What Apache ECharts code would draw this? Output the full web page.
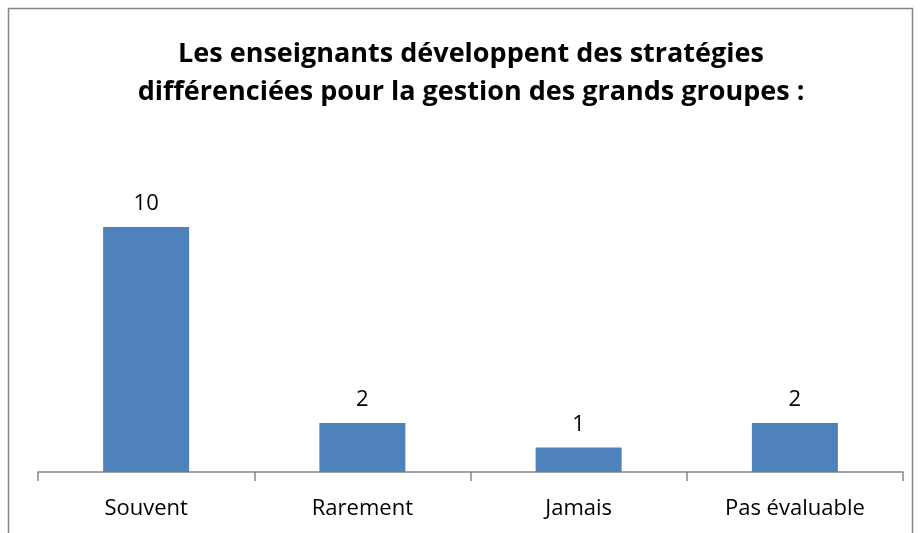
<!DOCTYPE html>
<html>
<head>
<meta charset="utf-8">
<script src="https://cdn.jsdelivr.net/npm/echarts@6/dist/echarts.min.js"></script>
<style>
  html, body { margin: 0; padding: 0; background: #fff; }
  #main { width: 921px; height: 533px; }
</style>
</head>
<body>
<div id="main"></div>
<script>
// categories et valeurs
var categories = ['Souvent', 'Rarement', 'Jamais', 'Pas évaluable'];
var values = [10, 2, 1, 2];
var titleLines = ['Les enseignants développent des stratégies', 'différenciées pour la gestion des grands groupes :'];

var chart = echarts.init(document.getElementById('main'));
var option = {
    backgroundColor: '#fff',
    animation: false,
    title: {
        text: titleLines.join('\n'),
        left: 466,
        textAlign: 'center',
        top: 30,
        textStyle: {
            fontFamily: 'Open Sans',
            fontWeight: 'bold',
            fontSize: 27,
            lineHeight: 38,
            color: '#000'
        }
    },
    graphic: [{
        type: 'rect',
        shape: { x: 8.5, y: 8.5, width: 904, height: 540 },
        style: { fill: 'none', stroke: '#868686', lineWidth: 1.5 },
        silent: true
    }],
    grid: { left: 38, right: 18, top: 178, bottom: 61 },
    xAxis: {
        type: 'category',
        data: categories,
        axisLine: { lineStyle: { color: '#868686', width: 1.5 } },
        axisTick: { show: true, alignWithLabel: false, length: 9, lineStyle: { color: '#868686', width: 1.5 } },
        axisLabel: { color: '#000', fontSize: 22, fontFamily: 'Open Sans', margin: 26 }
    },
    yAxis: {
        type: 'value',
        min: 0,
        max: 12,
        show: false
    },
    series: [{
        type: 'bar',
        data: values,
        barWidth: 86,
        itemStyle: { color: '#4f81bd' },
        label: {
            show: true,
            position: 'top',
            distance: 12,
            color: '#000',
            fontSize: 22,
            fontFamily: 'Open Sans'
        }
    }]
};
chart.setOption(option);
</script>
</body>
</html>
